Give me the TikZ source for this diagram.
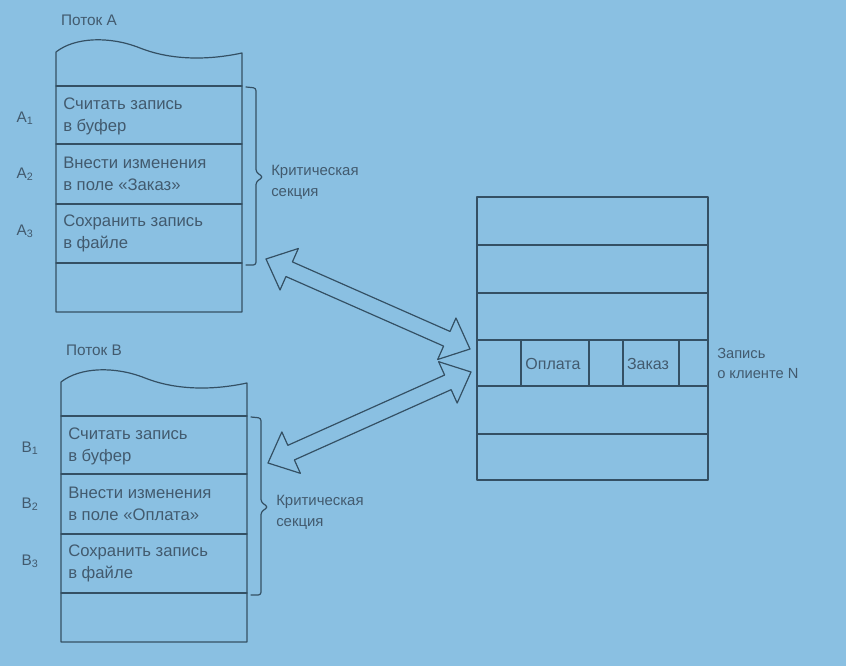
\documentclass[tikz,border=0pt]{standalone}
\usepackage{fontspec}
\setmainfont{Liberation Sans}
\usetikzlibrary{calc}
\definecolor{screen}{RGB}{138,192,226}
\definecolor{ink}{RGB}{52,80,100}
\definecolor{pale}{RGB}{66,90,110}
\tikzset{
	rowtext/.style={anchor=west, align=left, inner sep=0pt, font=\fontsize{12.5}{16.5}\selectfont, text=pale},
	tag/.style={font=\fontsize{11.5}{13}\selectfont, text=pale},
	note/.style={anchor=north west, align=left, inner sep=0pt, font=\fontsize{11.2}{15.8}\selectfont, text=pale},
	bracket/.style={ink, line width=0.9pt, rounded corners=2pt},
}
% hollow double-headed arrow between two named coordinates
\newcommand{\fatarrow}[2]{%
	\path ($(#1)!19pt!(#2)$) coordinate (hs) ($(#2)!19pt!(#1)$) coordinate (he);
	\draw[ink, line width=0.9pt] (#1) -- ($(hs)!17pt!90:(#2)$) -- ($(hs)!6pt!90:(#2)$)
		-- ($(he)!6pt!-90:(#1)$) -- ($(he)!17pt!-90:(#1)$) -- (#2)
		-- ($(he)!17pt!90:(#1)$) -- ($(he)!6pt!90:(#1)$)
		-- ($(hs)!6pt!-90:(#2)$) -- ($(hs)!17pt!-90:(#2)$) -- cycle;}

\begin{document}
\begin{tikzpicture}[x=0.75pt, y=-0.75pt, line join=round, line cap=round]
	\fill[screen] (0,0) rectangle (846,666);
	\useasboundingbox (0,0) rectangle (846,666);
	% the two threads
	\foreach \t/\f/\dx/\dy in {A/«Заказ»/0/0, B/«Оплата»/5/330}{
		\begin{scope}[shift={(\dx,\dy)}]
			\node[tag] (\t name) at (89,20) {Поток \t};
			\draw[ink, line width=0.9pt] (56,52) .. controls (75,37) and (110,36) .. (140,48)
				.. controls (165,58) and (200,62) .. (242,53) -- (242,312) -- (56,312) -- cycle;
			\foreach \y in {86,144,204,263}
				\draw[ink, line width=0.9pt] (56,\y) -- (242,\y);
			\node[rowtext] (\t s1) at (63,116) {Считать запись\\в буфер};
			\node[rowtext] (\t s2) at (63,174) {Внести изменения\\в поле \f};
			\node[rowtext] (\t s3) at (63,233) {Сохранить запись\\в файле};
			\foreach \i/\y in {1/118,2/174,3/231}
				\node[tag] (\t\i) at (25,\y) {\t\textsubscript{\i}};
			\draw[bracket] (246,87) -- (256,88) -- (256,172) -- (263,177) -- (256,182) -- (256,265) -- (246,265);
			\node[note] (\t crit) at (271,165) {Критическая\\секция};
		\end{scope}
	}
	% record of the file
	\draw[ink, line width=0.9pt] (477,197) rectangle (708,480);
	\foreach \y in {245,293,340,386,434}
		\draw[ink, line width=0.9pt] (477,\y) -- (708,\y);
	\foreach \x in {521,589,623,679}
		\draw[ink, line width=0.9pt] (\x,340) -- (\x,386);
	\node[tag, font=\fontsize{12}{14}\selectfont] (pay) at (553,364) {Оплата};
	\node[tag, font=\fontsize{12}{14}\selectfont] (order) at (648,364) {Заказ};
	\node[note, anchor=west, font=\fontsize{11}{15}\selectfont] (rec) at (717,363) {Запись\\о клиенте N};
	% access arrows
	\path (266,259) coordinate (ta) (470,349) coordinate (ra)
		(268,463) coordinate (tb) (471,372) coordinate (rb);
	\fatarrow{ta}{ra}
	\fatarrow{tb}{rb}
\end{tikzpicture}
\end{document}
